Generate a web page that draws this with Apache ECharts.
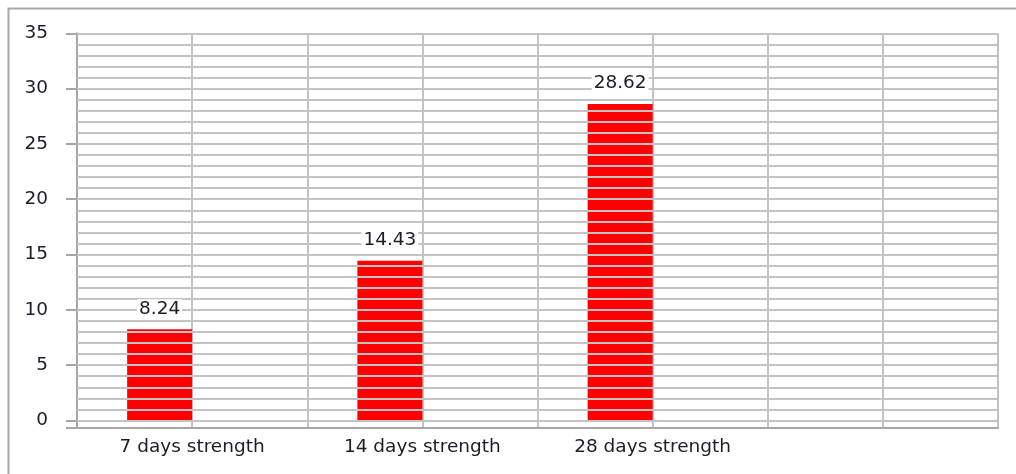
<!DOCTYPE html>
<html>
<head>
<meta charset="utf-8">
<script src="https://cdn.jsdelivr.net/npm/echarts@6/dist/echarts.min.js"></script>
<style>html,body{margin:0;padding:0;background:#fff;}#c{width:1016px;height:474px;}</style>
</head>
<body>
<div id="c"></div>
<script>
const categories = ['7 days strength', '14 days strength', '28 days strength', ''];
const strengthValues = [8.24, 14.43, 28.62, '-'];
const emptySeriesValues = ['-', '-', '-', '-'];
const gridColumns = ['', '', '', '', '', '', '', ''];
const yTickMin = 0, yTickMax = 35, yTickStep = 5;

const grayLine = '#c3c3c3';
const axisGray = '#a6a6a6';
const textColor = '#1c1c2a';
const font = 'DejaVu Sans';
const fontSize = 18.5;

const hiddenCat = { axisLine: { show: false }, axisTick: { show: false }, axisLabel: { show: false }, splitLine: { show: false } };

const chart = echarts.init(document.getElementById('c'));
chart.setOption({
  animation: false,
  graphic: [{
    type: 'rect', left: 6, top: 6,
    shape: { x: 0, y: 0, width: 1030, height: 490 },
    style: { fill: 'none', stroke: '#a8a8a8', lineWidth: 2 },
    silent: true
  }],
  grid: [
    { left: 77, right: 18, top: 33.3, bottom: 53.5 },
    { left: 77, right: 18, top: 33.3, bottom: 46 }
  ],
  xAxis: [
    Object.assign({ gridIndex: 0, type: 'category', data: categories }, hiddenCat),
    { gridIndex: 1, type: 'category', data: categories,
      axisLine: { show: true, lineStyle: { color: axisGray, width: 2 } },
      axisTick: { show: false },
      axisLabel: { show: true, interval: 0, margin: 10, fontFamily: font, fontSize: fontSize, color: textColor },
      splitLine: { show: false } },
    { gridIndex: 1, type: 'category', data: gridColumns, position: 'bottom',
      axisLine: { show: false }, axisTick: { show: false }, axisLabel: { show: false },
      splitLine: { show: true, interval: 0, lineStyle: { color: grayLine, width: 2 } } },
    Object.assign({ gridIndex: 0, type: 'category', data: categories }, hiddenCat)
  ],
  yAxis: [
    { gridIndex: 0, type: 'value', min: yTickMin, max: yTickMax, interval: yTickStep, z: 5,
      axisLine: { show: false },
      axisTick: { show: true, inside: false, length: 11, lineStyle: { color: axisGray, width: 2 } },
      axisLabel: { show: true, margin: 29, fontFamily: font, fontSize: fontSize, color: textColor },
      splitLine: { show: true, lineStyle: { color: grayLine, width: 2 } },
      minorTick: { show: false, splitNumber: 5 },
      minorSplitLine: { show: true, lineStyle: { color: grayLine, width: 2 } } },
    { gridIndex: 1, type: 'value', min: 0, max: 1, interval: 1,
      axisLine: { show: true, lineStyle: { color: axisGray, width: 2 } },
      axisTick: { show: true, inside: false, length: 11, lineStyle: { color: axisGray, width: 2 } },
      axisLabel: { show: false }, splitLine: { show: false } }
  ],
  series: [
    { type: 'bar', xAxisIndex: 0, yAxisIndex: 0, data: strengthValues,
      barWidth: 65, barGap: '0%', z: 2,
      itemStyle: { color: '#ff0000' } },
    { type: 'bar', xAxisIndex: 0, yAxisIndex: 0, data: emptySeriesValues,
      barWidth: 65, barGap: '0%', itemStyle: { color: '#ff0000' } },
    // transparent overlay carrying the value labels above the gridlines
    { type: 'bar', xAxisIndex: 3, yAxisIndex: 0, data: strengthValues,
      barWidth: 65, barGap: '0%', z: 8, silent: true,
      itemStyle: { color: 'rgba(0,0,0,0)' },
      label: { show: true, position: 'top', distance: 11, fontFamily: font, fontSize: fontSize, color: textColor,
        backgroundColor: '#ffffff', padding: [0, 2, 0, 2] } },
    { type: 'bar', xAxisIndex: 3, yAxisIndex: 0, data: emptySeriesValues,
      barWidth: 65, barGap: '0%', z: 8, silent: true, itemStyle: { color: 'rgba(0,0,0,0)' } }
  ]
});
</script>
</body>
</html>
